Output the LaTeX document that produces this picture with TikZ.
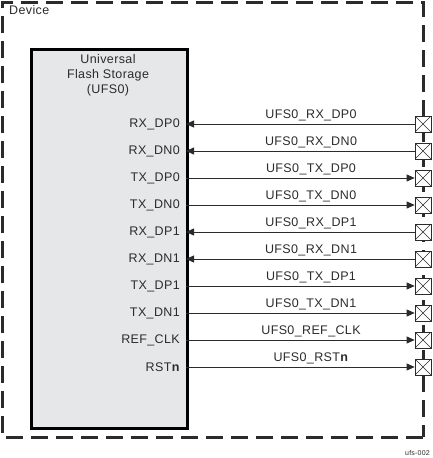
\documentclass[tikz,border=0pt]{standalone}
\usepackage{fontspec}
\setmainfont[LetterSpace=3]{Liberation Sans}
\usetikzlibrary{arrows.meta}
\definecolor{ink}{HTML}{2B2B2B}
\definecolor{boxfill}{HTML}{E6E7E8}
\tikzset{
  lbl/.style={font=\fontsize{12.5}{15}\selectfont, text=ink, inner sep=0pt},
  pinlbl/.style={lbl, anchor=east},
  siglbl/.style={lbl, anchor=base},
  xbox/.style={draw=ink, fill=white, line width=0.7pt, minimum width=16pt, minimum height=16pt, inner sep=0pt, path picture={\draw[ink, line width=0.5pt] (path picture bounding box.south west) -- (path picture bounding box.north east) (path picture bounding box.north west) -- (path picture bounding box.south east);}},
  sig/.style={draw=ink, line width=0.8pt},
  tip/.style={-{Triangle[length=8pt,width=7pt]}},
}
\begin{document}
\begin{tikzpicture}[x=1pt,y=-1pt]
\useasboundingbox (0,0) rectangle (432,458);
% outer device boundary
\draw[ink, line width=3pt, dash pattern=on 17pt off 8pt] (423,437) -- (2,437) -- (2,2) -- (423,2) -- cycle;
\node[lbl, anchor=north west] (dev) at (9,5) {Device};
% UFS block
\node[draw=black, line width=2.5pt, fill=boxfill, minimum width=156pt, minimum height=379pt, inner sep=0pt, anchor=north west] (ufs) at (30,48) {};
\node[lbl, align=center, anchor=north] (title) at (108,54) {Universal\\Flash Storage\\(UFS0)};
\node[lbl, anchor=south east] (fig) at (430,456) {\fontsize{7}{8}\selectfont ufs-002};
% pins
\foreach \i/\pin/\sig/\dir in {0/RX\_DP0/UFS0\_RX\_DP0/in,1/RX\_DN0/UFS0\_RX\_DN0/in,2/TX\_DP0/UFS0\_TX\_DP0/out,3/TX\_DN0/UFS0\_TX\_DN0/out,4/RX\_DP1/UFS0\_RX\_DP1/in,5/RX\_DN1/UFS0\_RX\_DN1/in,6/TX\_DP1/UFS0\_TX\_DP1/out,7/TX\_DN1/UFS0\_TX\_DN1/out,8/REF\_CLK/UFS0\_REF\_CLK/out,9/RST\textbf{n}/UFS0\_RST\textbf{n}/out}{
  \pgfmathsetmacro{\yy}{124+27*\i}
  \coordinate (p\i) at (186,\yy);
  \node[xbox] (x\i) at (423,\yy) {};
  \node[pinlbl] (pl\i) at (180,\yy) {\pin};
  \node[siglbl] (sl\i) at (311,\yy-6) {\sig};
  \def\tmpin{in}
  \ifx\dir\tmpin
    \draw[sig, tip] (x\i.west) -- (p\i);
  \else
    \draw[sig, tip] (p\i) -- (x\i.west);
  \fi
}
\end{tikzpicture}
\end{document}
